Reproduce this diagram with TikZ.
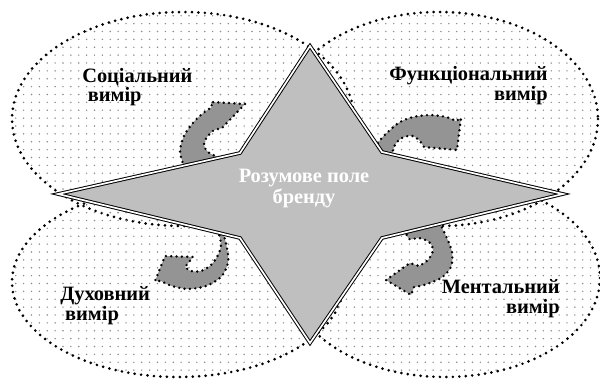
\documentclass[tikz,border=0pt]{standalone}
\usepackage{fontspec}
\setmainfont{Liberation Serif}
\usetikzlibrary{patterns.meta}
\begin{document}
\begin{tikzpicture}[x=0.025cm, y=-0.025cm,
  ell/.style={pattern={Dots[distance=5.6pt,radius=0.55pt]}, pattern color=black!45,
    draw=black, line width=2.1pt, line cap=round, dash pattern=on 0pt off 4.6pt},
  carrow/.style={fill=black!42, draw=black, line width=1.9pt, line cap=round,
    line join=round, dash pattern=on 0pt off 3.8pt},
  starshape/.style={fill=black!25, draw=black, line width=0.7pt, double=white,
    double distance=1.2pt, line join=miter, miter limit=12},
  lbl/.style={inner sep=0pt, font=\fontsize{14.5pt}{12.5pt}\selectfont\bfseries, text=black},
  clbl/.style={inner sep=0pt, align=center, font=\fontsize{14.5pt}{15pt}\selectfont\bfseries, text=white}]
\useasboundingbox (0,0) rectangle (600,378);
% ellipses
\draw[ell] (183,119) ellipse [x radius=171, y radius=107];
\draw[ell] (439,119) ellipse [x radius=159, y radius=107];
\draw[ell] (178,282) ellipse [x radius=166, y radius=95];
\draw[ell] (445,278) ellipse [x radius=155, y radius=99];
% curved arrows
\draw[carrow] plot[smooth] coordinates {(186,172) (180,152) (184,136) (192,124) (202,114) (212,107)}
  -- (211,102) -- (245,104) -- (222,128)
  -- plot[smooth] coordinates {(214,130) (207,137) (204,145) (208,152) (218,157) (234,162)} -- cycle;
\draw[carrow] plot[smooth] coordinates {(372,152) (381,139) (390,130) (400,122) (413,117) (430,115) (446,117) (456,121)}
  -- (461,118) -- (457,150) -- (424,147)
  -- plot[smooth] coordinates {(420,141) (413,136) (404,137) (397,142) (393,150) (392,162)} -- cycle;
\draw[carrow] plot[smooth] coordinates {(222,228) (227,248) (228,263) (221,277) (206,286) (188,289) (172,286) (161,281)}
  -- (155,281) -- (165,256) -- (193,257)
  -- plot[smooth] coordinates {(185,267) (191,271) (201,271) (211,265) (218,255) (221,244) (217,226)} -- cycle;
\draw[carrow] plot[smooth] coordinates {(437,218) (446,236) (452,252) (451,267) (441,278) (424,285) (414,287)}
  -- (411,295) -- (386,280) -- (410,263)
  -- plot[smooth] coordinates {(419,266) (428,260) (433,250) (429,242) (419,238) (409,239) (404,228)} -- cycle;
% star
\coordinate (sT) at (310,46);
\coordinate (sUR) at (382,152);
\coordinate (sR) at (563,194);
\coordinate (sLR) at (382,238);
\coordinate (sB) at (310,343);
\coordinate (sLL) at (240,238);
\coordinate (sL) at (58,194);
\coordinate (sUL) at (240,153);
\draw[starshape] (sT) -- (sUR) -- (sR) -- (sLR) -- (sB) -- (sLL) -- (sL) -- (sUL) -- cycle;
% labels
\node[clbl, anchor=north] (cen) at (304,169) {Розумове поле\\бренду};
\node[lbl, anchor=north west, align=left] (soc) at (82,68) {Соціальний\\\hspace*{4pt}вимір};
\node[lbl, anchor=north east, align=right] (fun) at (548,66) {Функціональний\\вимір};
\node[lbl, anchor=north west, align=left] (duh) at (60,286) {Духовний\\\hspace*{3.5pt}вимір};
\node[lbl, anchor=north east, align=right] (men) at (560,279) {Ментальний\\[2pt]вимір};
\end{tikzpicture}
\end{document}
